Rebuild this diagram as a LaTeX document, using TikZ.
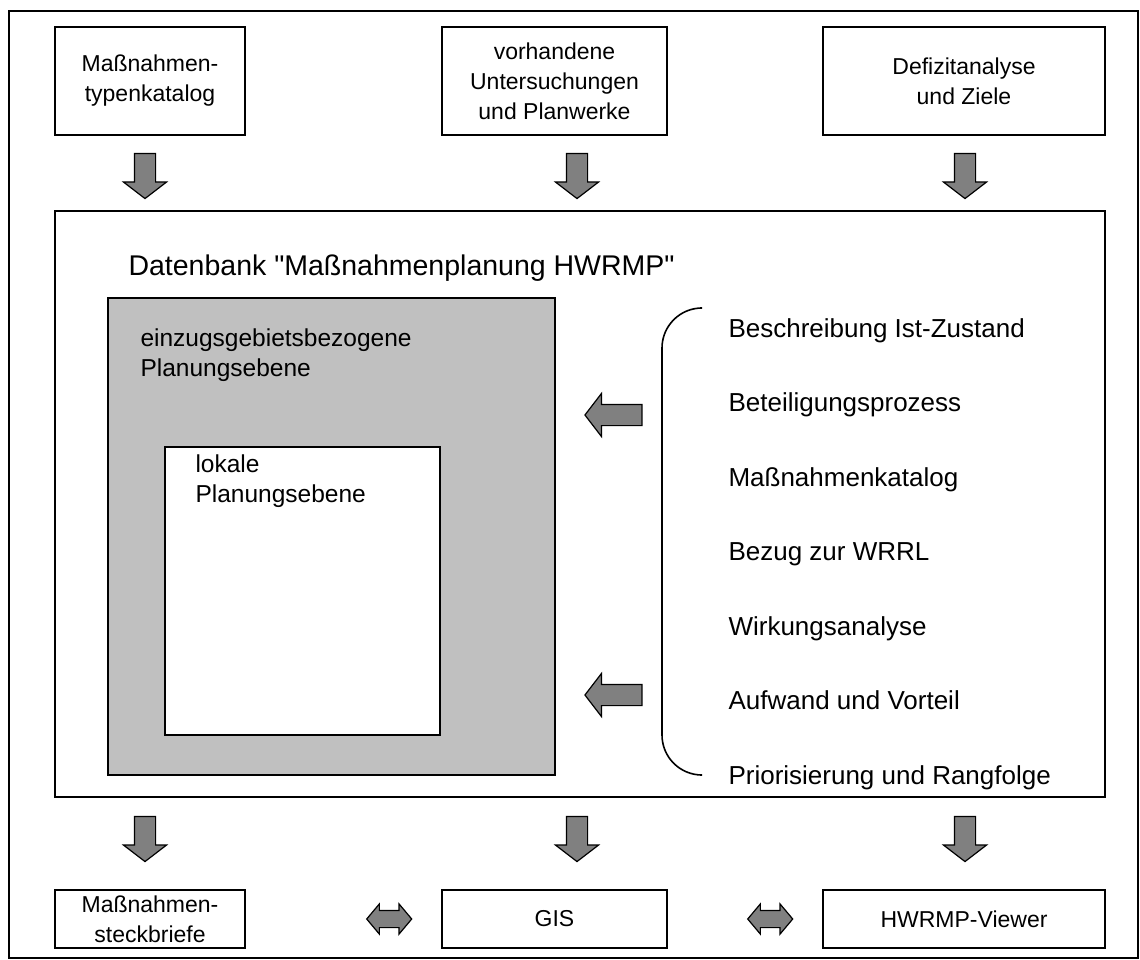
\documentclass[tikz,border=0pt]{standalone}
\usepackage{fontspec}
\setmainfont{Liberation Sans}[Ligatures=TeXOff]
\usepackage{xcolor}
\usetikzlibrary{shapes.arrows, positioning, calc}

\definecolor{pfeilgrau}{HTML}{808080}
\definecolor{ebenegrau}{HTML}{C0C0C0}

\tikzset{
  kasten/.style={draw, line width=1.6pt, align=center, inner sep=0pt},
  blockpfeil/.style={single arrow, draw, line width=1.2pt, fill=pfeilgrau,
    minimum height=45pt, inner xsep=0pt, inner ysep=10pt,
    single arrow head extend=11pt, single arrow tip angle=105},
  doppelpfeil/.style={double arrow, draw, line width=1.2pt, fill=pfeilgrau,
    minimum height=45pt, inner xsep=0pt, inner ysep=8pt,
    double arrow head extend=6.5pt, double arrow tip angle=100},
  listtext/.style={font=\fontsize{26}{31}\selectfont, anchor=base west},
  ebenentext/.style={font=\fontsize{24.5}{30}\selectfont, anchor=base west, align=left}
}

\begin{document}
\begin{tikzpicture}[x=1pt, y=-1pt, font=\fontsize{23}{30}\selectfont]
  \useasboundingbox (0,0) rectangle (1140,960);
  \draw[line width=1.2pt] (9,11) rectangle (1138,958);

  % Eingangsdaten
  \node[kasten, minimum width=190pt, minimum height=108pt] (katalog) at (150,81)
       {Maßnahmen-\\typenkatalog};
  \node[kasten, minimum width=225pt, minimum height=108pt] (untersuchung) at (554.5,81)
       {vorhandene\\Untersuchungen\\und Planwerke};
  \node[kasten, minimum width=282pt, minimum height=108pt] (defizit) at (964,81)
       {Defizitanalyse\\und Ziele};
  \foreach \x in {145, 577, 965}
    \node[blockpfeil, rotate=-90] (ein\x) at (\x,172) {};

  % Datenbank
  \node[kasten, minimum width=1050pt, minimum height=586pt] (datenbank) at (580,504) {};
  \node[anchor=base west, font=\fontsize{28.5}{34}\selectfont] (titel) at (125,275)
       {Datenbank "Maßnahmenplanung HWRMP"};

  \node[kasten, fill=ebenegrau, minimum width=447pt, minimum height=477pt] (einzugsgebiet)
       at (331.5,536.5) {};
  \node[ebenentext] (einzugtext) at (137,376) {einzugsgebietsbezogene\\Planungsebene};
  \node[kasten, fill=white, minimum width=275pt, minimum height=288pt] (lokal)
       at (302.5,591) {};
  \node[ebenentext] (lokaltext) at (192,502) {lokale\\Planungsebene};

  % Inhalte
  \draw[line width=1.6pt, rounded corners=40pt] (700,308) -- (662,308) -- (662,775) -- (700,775);
  \foreach \i/\txt in {0/Beschreibung Ist-Zustand, 1/Beteiligungsprozess,
                       2/Maßnahmenkatalog, 3/Bezug zur WRRL, 4/Wirkungsanalyse,
                       5/Aufwand und Vorteil, 6/Priorisierung und Rangfolge}
    \node[listtext] (inhalt\i) at (725,{337+74.5*\i}) {\txt};
  \node[blockpfeil, rotate=180, minimum height=57pt] (links1) at (617.5,415) {};
  \node[blockpfeil, rotate=180, minimum height=57pt] (links2) at (617.5,695) {};

  % Ausgaben
  \foreach \x in {145, 577, 965}
    \node[blockpfeil, rotate=-90] (aus\x) at (\x,835) {};
  \node[kasten, minimum width=190pt, minimum height=58pt] (steckbrief) at (150,919)
       {Maßnahmen-\\steckbriefe};
  \node[kasten, minimum width=225pt, minimum height=58pt] (gis) at (554.5,919) {GIS};
  \node[kasten, minimum width=282pt, minimum height=58pt] (viewer) at (964,919)
       {HWRMP-Viewer};
  \node[doppelpfeil] (dp1) at ([xshift=-52pt]gis.west) {};
  \node[doppelpfeil] (dp2) at ([xshift=-52pt]viewer.west) {};
\end{tikzpicture}
\end{document}
